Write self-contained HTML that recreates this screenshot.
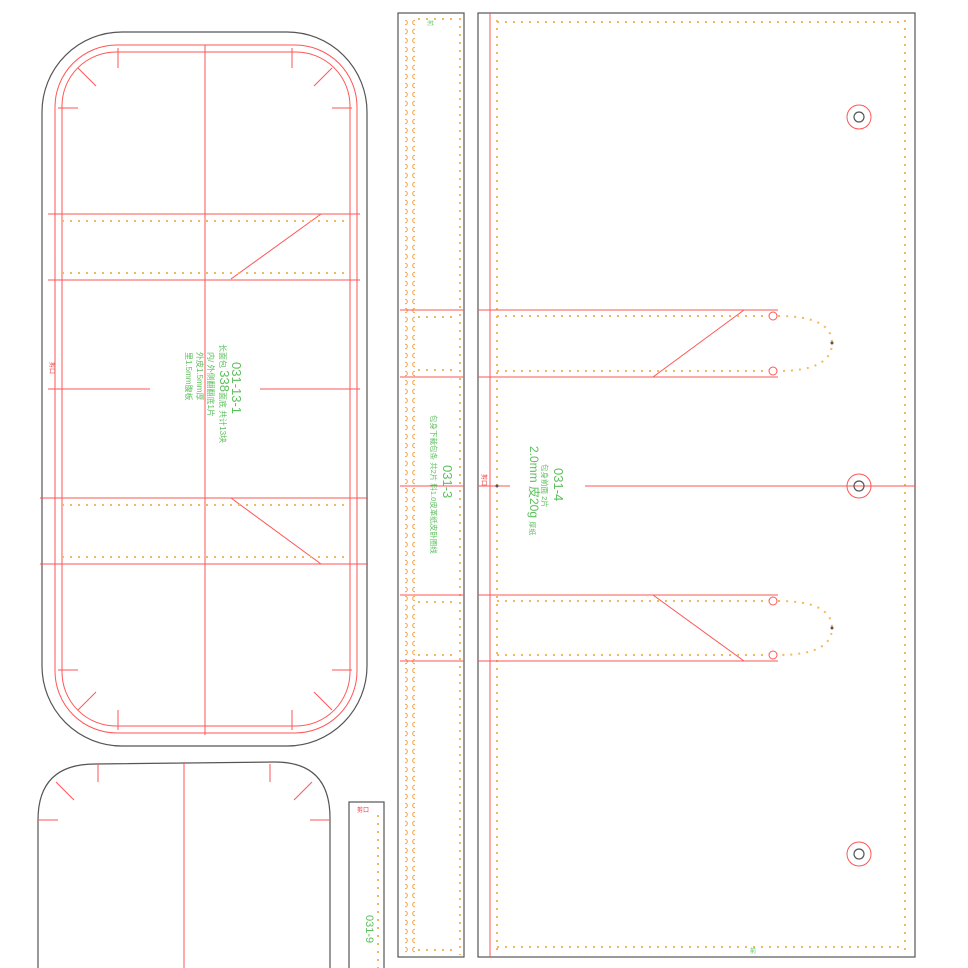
<!DOCTYPE html>
<html><head><meta charset="utf-8"><style>
html,body{margin:0;padding:0;background:#fff;}
svg{display:block}
text{font-family:"Liberation Sans","Noto Sans CJK SC",sans-serif;fill:#5cbf5c;}
</style></head><body>
<svg width="968" height="968" viewBox="0 0 968 968" xmlns="http://www.w3.org/2000/svg">
<defs>
<style>
.o{fill:none;stroke:#555;stroke-width:1.2}
.r{fill:none;stroke:#f55;stroke-width:1}
.h{fill:none;stroke:#f5b860;stroke-width:2;stroke-dasharray:2 6}
</style>
<pattern id="dots" x="0" y="18" width="10" height="9" patternUnits="userSpaceOnUse">
<circle cx="5" cy="4.5" r="2.3" fill="none" stroke="#f5a040" stroke-width="1"/>
</pattern>
</defs>
<rect class="o" x="42" y="32" width="325" height="714" rx="80"/>
<rect class="r" x="55" y="45" width="302" height="688" rx="62"/>
<rect class="r" x="62" y="52" width="288" height="674" rx="54"/>
<line class="r" x1="205" y1="45" x2="205" y2="735"/>
<line class="r" x1="48" y1="214" x2="360" y2="214"/>
<line class="r" x1="48" y1="280" x2="360" y2="280"/>
<line class="r" x1="40" y1="498" x2="368" y2="498"/>
<line class="r" x1="40" y1="564" x2="368" y2="564"/>
<line class="r" x1="48" y1="389" x2="150" y2="389"/>
<line class="r" x1="260" y1="389" x2="360" y2="389"/>
<line class="r" x1="231" y1="279" x2="321" y2="214"/>
<line class="r" x1="231" y1="498" x2="321" y2="564"/>
<line class="h" x1="62" y1="221" x2="350" y2="221"/>
<line class="h" x1="62" y1="273" x2="350" y2="273"/>
<line class="h" x1="62" y1="505" x2="350" y2="505"/>
<line class="h" x1="62" y1="557" x2="350" y2="557"/>
<line class="r" x1="78" y1="68" x2="96" y2="86"/><line class="r" x1="118" y1="48" x2="118" y2="68"/><line class="r" x1="58" y1="108" x2="78" y2="108"/>
<line class="r" x1="332" y1="68" x2="314" y2="86"/><line class="r" x1="292" y1="48" x2="292" y2="68"/><line class="r" x1="352" y1="108" x2="332" y2="108"/>
<line class="r" x1="78" y1="710" x2="96" y2="692"/><line class="r" x1="118" y1="730" x2="118" y2="710"/><line class="r" x1="58" y1="670" x2="78" y2="670"/>
<line class="r" x1="332" y1="710" x2="314" y2="692"/><line class="r" x1="292" y1="730" x2="292" y2="710"/><line class="r" x1="352" y1="670" x2="332" y2="670"/>
<text transform="translate(50,362) rotate(90)" font-size="6" style="fill:#e33">剪口</text>
<g transform="translate(232,362) rotate(90)">
<text x="0" y="0" font-size="13">031-13-1</text>
<text x="-18" y="12" font-size="8">长面包 <tspan font-size="13">338</tspan>面底 共计13块</text>
<text x="-10" y="24" font-size="8">内/ 外侧翻翻底1片</text>
<text x="-10" y="35" font-size="8">外皮1.5mm厚</text>
<text x="-10" y="46" font-size="8">里1.5mm腹板</text>
</g>
<path class="o" d="M38,968 L38,820 Q38,764 95,764 L275,762 Q330,762 330,818 L330,968"/>
<line class="r" x1="184" y1="762" x2="184" y2="968"/>
<line class="r" x1="56" y1="782" x2="74" y2="800"/><line class="r" x1="98" y1="764" x2="98" y2="782"/><line class="r" x1="38" y1="820" x2="58" y2="820"/>
<line class="r" x1="312" y1="782" x2="294" y2="800"/><line class="r" x1="270" y1="764" x2="270" y2="782"/><line class="r" x1="330" y1="820" x2="310" y2="820"/>
<rect class="o" x="349" y="802" width="35" height="170"/>
<line class="h" x1="378" y1="815" x2="378" y2="968"/>
<text x="357" y="812" font-size="6" style="fill:#e33">剪口</text>
<text transform="translate(366,915) rotate(90)" font-size="11">031-9</text>
<rect class="o" x="398" y="13" width="66" height="944"/>
<rect x="405" y="18" width="10" height="936" fill="url(#dots)"/>
<line class="h" x1="460" y1="18" x2="460" y2="955"/>
<line class="h" x1="418" y1="19" x2="458" y2="19"/>
<line class="h" x1="418" y1="950" x2="458" y2="950"/>
<line class="r" x1="400" y1="310" x2="464" y2="310"/>
<line class="r" x1="400" y1="377" x2="464" y2="377"/>
<line class="r" x1="400" y1="595" x2="464" y2="595"/>
<line class="r" x1="400" y1="661" x2="464" y2="661"/>
<line class="h" x1="418" y1="317" x2="458" y2="317"/>
<line class="h" x1="418" y1="370" x2="458" y2="370"/>
<line class="h" x1="418" y1="602" x2="458" y2="602"/>
<line class="h" x1="418" y1="655" x2="458" y2="655"/>
<line class="r" x1="400" y1="486" x2="464" y2="486"/>
<text transform="translate(428,20) rotate(90)" font-size="6">前</text>
<g transform="translate(443,445) rotate(90)">
<text x="20" y="0" font-size="13">031-3</text>
<text x="-30" y="12" font-size="7.5">包身下裁包条 共2片 料1.0皮革纸皮卧圈线</text>
</g>
<rect class="o" x="478" y="13" width="437" height="944"/>
<line class="r" x1="490" y1="13" x2="490" y2="957"/>
<line class="h" x1="905" y1="20" x2="905" y2="950"/>
<line class="h" x1="497" y1="22" x2="904" y2="22"/>
<line class="h" x1="497" y1="947" x2="904" y2="947"/>
<line class="h" x1="497" y1="20" x2="497" y2="950"/>
<line class="r" x1="478" y1="310" x2="778" y2="310"/>
<line class="r" x1="478" y1="377" x2="778" y2="377"/>
<line class="r" x1="653" y1="377" x2="744" y2="310"/>
<line class="h" x1="497" y1="316" x2="768" y2="316"/>
<line class="h" x1="497" y1="371" x2="768" y2="371"/>
<path class="h" d="M778,316 Q832,316 832,343 Q832,371 778,371"/>
<circle class="r" cx="773" cy="316" r="4"/><circle class="r" cx="773" cy="371" r="4"/>
<circle cx="832" cy="343" r="1.5" fill="#555"/>
<line class="r" x1="478" y1="595" x2="778" y2="595"/>
<line class="r" x1="478" y1="661" x2="778" y2="661"/>
<line class="r" x1="653" y1="595" x2="744" y2="661"/>
<line class="h" x1="497" y1="601" x2="768" y2="601"/>
<line class="h" x1="497" y1="655" x2="768" y2="655"/>
<path class="h" d="M778,601 Q832,601 832,628 Q832,655 778,655"/>
<circle class="r" cx="773" cy="601" r="4"/><circle class="r" cx="773" cy="655" r="4"/>
<circle cx="832" cy="628" r="1.5" fill="#555"/>
<line class="r" x1="585" y1="486" x2="915" y2="486"/>
<line class="r" x1="478" y1="486" x2="510" y2="486"/>
<circle cx="497" cy="486" r="1.5" fill="#555"/>
<circle class="r" cx="859" cy="117" r="12"/><circle class="o" cx="859" cy="117" r="5"/>
<circle class="r" cx="859" cy="486" r="12"/><circle class="o" cx="859" cy="486" r="5"/>
<circle class="r" cx="859" cy="854" r="12"/><circle class="o" cx="859" cy="854" r="5"/>
<text transform="translate(482,474) rotate(90)" font-size="6" style="fill:#e33">剪口</text>
<g transform="translate(554,468) rotate(90)">
<text x="0" y="0" font-size="13">031-4</text>
<text x="-4" y="12" font-size="7.5">包身前面 2片</text>
<text x="-22" y="24" font-size="12">2.0mm 皮20g <tspan font-size="7">厚纸</tspan></text>
</g>
<text x="750" y="953" font-size="6">前</text>
</svg>
</body></html>
